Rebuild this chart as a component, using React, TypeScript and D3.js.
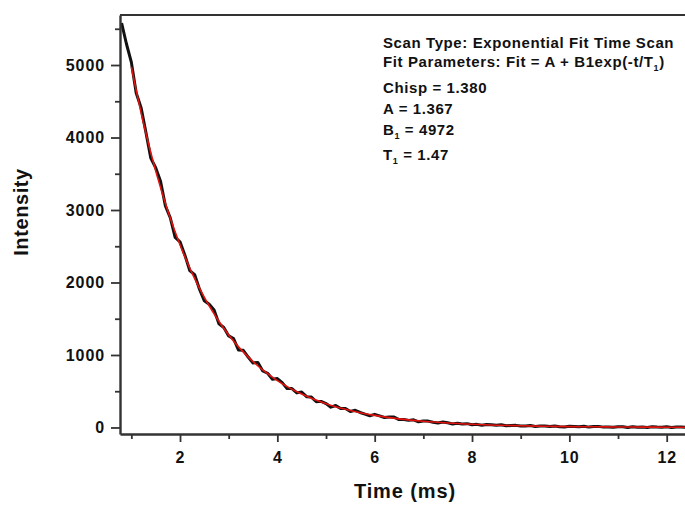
import React, { useEffect, useRef } from "react";
import * as d3 from "d3";

// measured decay trace: counts sampled every 0.1 ms from 0.8 ms
const traceStart = 0.8;
const traceStep = 0.1;
const traceCounts = [
  5580, 5290, 5040, 4613, 4412, 4070, 3715, 3583, 3397, 3057,
  2893, 2622, 2561, 2377, 2165, 2109, 1908, 1747, 1700, 1622,
  1430, 1379, 1263, 1225, 1070, 1064, 972, 890, 898, 779,
  748, 666, 675, 619, 536, 536, 477, 489, 425, 419,
  355, 360, 330, 280, 303, 262, 261, 221, 237, 207,
  184, 162, 181, 160, 137, 143, 143, 109, 111, 98,
  105, 78, 89, 88, 72, 62, 76, 64, 49, 57,
  49, 53, 38, 43, 30, 40, 37, 30, 37, 23,
  27, 29, 20, 21, 27, 14, 20, 20, 12, 20,
  11, 7, 16, 13, 9, 16, 5, 12, 15, 5,
  8, 2, 11, 9, -1, 10, 4, 8, 1, 10,
  5, 2, 9, -1, 6, 7, 2,
];

// exponential fit curve
const fitTimes = [1.0, 1.25, 1.5, 1.75, 2.0, 2.25, 2.5, 2.75, 3.0, 3.25, 3.5, 3.75, 4.0, 4.5, 5.0,
  5.5, 6.0, 6.5, 7.0, 7.5, 8.0, 8.5, 9.0, 9.5, 10.0, 10.5, 11.0, 11.5, 12.0, 12.5];
const fitValues = [4973, 4196, 3540, 2987, 2520, 2126, 1794, 1513, 1277, 1077, 909, 767, 647, 461, 328,
  234, 167, 119, 85, 61, 44, 31, 23, 17, 12, 9, 7, 5, 4, 3];

const xTicks = [2, 4, 6, 8, 10, 12];
const xMinorTicks = [1, 3, 5, 7, 9, 11];
const yTicks = [0, 1000, 2000, 3000, 4000, 5000];
const yMinorTicks = [500, 1500, 2500, 3500, 4500, 5500];

// annotation lines, [text, isSubscript]
const noteLines: [string, boolean][][] = [
  [["Scan Type: Exponential Fit Time Scan", false]],
  [["Fit Parameters: Fit = A + B1exp(-t/T", false], ["1", true], [")", false]],
  [["Chisp = 1.380", false]],
  [["A = 1.367", false]],
  [["B", false], ["1", true], [" = 4972", false]],
  [["T", false], ["1", true], [" = 1.47", false]],
];

const FONT = "'Liberation Sans', Arial, Helvetica, sans-serif";

function App() {
  const ref = useRef<SVGSVGElement>(null);

  useEffect(() => {
    const W = 685, H = 506;
    const left = 120, right = 685, top = 15, bottom = 434;

    const svg = d3.select(ref.current);
    svg.selectAll("*").remove();

    const x = d3.scaleLinear().domain([0.767, 12.376]).range([left, right]);
    const y = d3.scaleLinear().domain([-90, 5690]).range([bottom, top]);

    svg.append("defs").append("clipPath").attr("id", "plotclip")
      .append("rect").attr("x", left).attr("y", top)
      .attr("width", right - left).attr("height", bottom - top);

    const trace = traceCounts.map((v, i) => [traceStart + i * traceStep, v] as [number, number]);
    const fit = fitTimes.map((t, i) => [t, fitValues[i]] as [number, number]);

    const line = d3.line<[number, number]>().x(d => x(d[0])).y(d => y(d[1]));

    const plot = svg.append("g").attr("clip-path", "url(#plotclip)");
    plot.append("path").datum(trace)
      .attr("d", line)
      .attr("fill", "none")
      .attr("stroke", "#111")
      .attr("stroke-width", 3)
      .attr("stroke-linejoin", "round");
    plot.append("path").datum(fit)
      .attr("d", line.curve(d3.curveMonotoneX))
      .attr("fill", "none")
      .attr("stroke", "#e3140f")
      .attr("stroke-width", 1.6);

    // minor ticks
    svg.append("g").attr("transform", `translate(${left},0)`)
      .call(d3.axisLeft(y).tickValues(yMinorTicks).tickSize(5).tickFormat(() => "").tickSizeOuter(0))
      .call(g => g.select(".domain").remove());
    svg.append("g").attr("transform", `translate(0,${bottom})`)
      .call(d3.axisBottom(x).tickValues(xMinorTicks).tickSize(5).tickFormat(() => "").tickSizeOuter(0))
      .call(g => g.select(".domain").remove());

    const yAxis = svg.append("g").attr("transform", `translate(${left},0)`)
      .call(d3.axisLeft(y).tickValues(yTicks).tickSize(9).tickPadding(6).tickSizeOuter(0).tickFormat(d3.format("d")));
    const xAxis = svg.append("g").attr("transform", `translate(0,${bottom})`)
      .call(d3.axisBottom(x).tickValues(xTicks).tickSize(8).tickPadding(10).tickSizeOuter(0).tickFormat(d3.format("d")));

    [yAxis, xAxis].forEach(g => {
      g.selectAll("text")
        .style("font-family", FONT)
        .style("font-weight", "bold")
        .style("font-size", "16px")
        .style("letter-spacing", "0.9px")
        .attr("fill", "#111");
    });
    svg.selectAll(".tick line").attr("stroke", "#333").attr("stroke-width", 1.8);
    svg.selectAll(".domain").attr("stroke", "#333").attr("stroke-width", 2.4);

    // top frame line
    svg.append("line")
      .attr("x1", left).attr("x2", right)
      .attr("y1", top).attr("y2", top)
      .attr("stroke", "#333").attr("stroke-width", 2);

    // axis titles
    svg.append("text")
      .attr("x", 405).attr("y", 498)
      .attr("text-anchor", "middle")
      .style("font-family", FONT).style("font-weight", "bold")
      .style("font-size", "20px").style("letter-spacing", "0.9px")
      .attr("fill", "#111")
      .text("Time (ms)");
    svg.append("text")
      .attr("transform", `translate(28,212) rotate(-90)`)
      .attr("text-anchor", "middle")
      .style("font-family", FONT).style("font-weight", "bold")
      .style("font-size", "20px").style("letter-spacing", "0.6px")
      .attr("fill", "#111")
      .text("Intensity");

    // fit annotation
    const baselines = [48, 67, 93, 114, 135, 160];
    const note = svg.append("g");
    noteLines.forEach((parts, i) => {
      const t = note.append("text")
        .attr("x", 383).attr("y", baselines[i])
        .style("font-family", FONT).style("font-weight", "bold")
        .style("font-size", "15px").style("letter-spacing", "0.6px")
        .attr("fill", "#111");
      let shifted = false;
      parts.forEach(([txt, sub]) => {
        const ts = t.append("tspan").text(txt);
        if (sub && !shifted) { ts.attr("dy", 4).style("font-size", "9px"); shifted = true; }
        else if (!sub && shifted) { ts.attr("dy", -4); shifted = false; }
      });
    });

    svg.attr("width", W).attr("height", H);
  }, []);

  return (
    <svg ref={ref} width={685} height={506}
      style={{ position: "absolute", left: 0, top: 0, background: "#fff" }} />
  );
}

export default App;
